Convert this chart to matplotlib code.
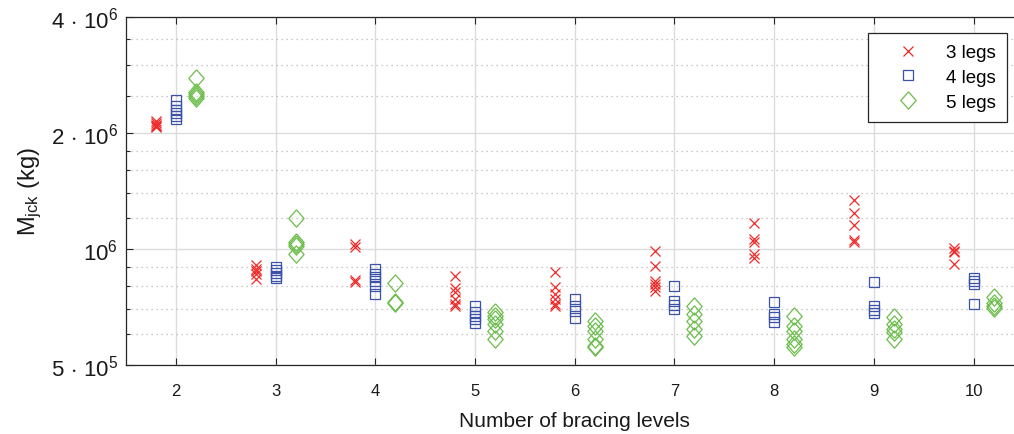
import numpy as np
import matplotlib
matplotlib.use('Agg')
import matplotlib.pyplot as plt
from matplotlib.ticker import FixedLocator, NullFormatter

plt.rcParams['font.family'] = ['Liberation Sans', 'DejaVu Sans']
plt.rcParams['mathtext.fontset'] = 'custom'
plt.rcParams['mathtext.rm'] = 'Liberation Sans'
plt.rcParams['mathtext.it'] = 'Liberation Sans:italic'

levels = [2, 3, 4, 5, 6, 7, 8, 9, 10]

# jacket mass (kg) per bracing level
legs3 = [
    [2.15e6, 2.12e6, 2.10e6, 2.08e6, 2.07e6],
    [9.1e5, 8.9e5, 8.75e5, 8.6e5, 8.35e5],
    [1.03e6, 1.015e6, 8.3e5, 8.2e5],
    [8.5e5, 7.9e5, 7.75e5, 7.42e5, 7.2e5, 7.1e5],
    [8.7e5, 7.96e5, 7.65e5, 7.42e5, 7.2e5, 7.1e5],
    [9.87e5, 9.05e5, 8.28e5, 8.12e5, 7.96e5, 7.8e5],
    [1.17e6, 1.06e6, 1.04e6, 9.7e5, 9.5e5],
    [1.34e6, 1.24e6, 1.155e6, 1.055e6, 1.045e6],
    [1.005e6, 9.9e5, 9.8e5, 9.15e5],
]
legs4 = [
    [2.43e6, 2.35e6, 2.30e6, 2.26e6, 2.22e6, 2.18e6],
    [8.98e5, 8.8e5, 8.65e5, 8.5e5, 8.4e5],
    [8.88e5, 8.62e5, 8.45e5, 8.28e5, 8.03e5, 7.65e5],
    [7.1e5, 6.85e5, 6.69e5, 6.58e5, 6.43e5],
    [7.42e5, 7.1e5, 6.92e5, 6.61e5],
    [8.03e5, 7.34e5, 7.16e5, 6.99e5],
    [7.3e5, 6.78e5, 6.65e5, 6.48e5],
    [8.23e5, 7.13e5, 6.96e5, 6.82e5],
    [8.4e5, 8.28e5, 8.12e5, 7.2e5],
]
legs5 = [
    [2.77e6, 2.55e6, 2.52e6, 2.49e6, 2.46e6],
    [1.2e6, 1.04e6, 1.03e6, 1.02e6, 9.7e5],
    [8.17e5, 7.3e5, 7.25e5],
    [6.85e5, 6.69e5, 6.58e5, 6.39e5, 6.14e5, 5.84e5],
    [6.52e5, 6.33e5, 6.14e5, 5.84e5, 5.61e5, 5.56e5],
    [7.13e5, 6.78e5, 6.52e5, 6.2e5, 5.96e5],
    [6.71e5, 6.33e5, 6.14e5, 5.84e5, 5.67e5, 5.56e5],
    [6.65e5, 6.39e5, 6.2e5, 6.08e5, 5.84e5],
    [7.5e5, 7.24e5, 7.13e5, 7.02e5],
]

series_labels = ['3 legs', '4 legs', '5 legs']
ytick_vals = [5e5, 1e6, 2e6, 4e6]
ytick_labels = [r'$5\,\cdot\,10^{5}$', r'$10^{6}$', r'$2\,\cdot\,10^{6}$', r'$4\,\cdot\,10^{6}$']
yminor_vals = [6e5, 7e5, 8e5, 9e5, 1.2e6, 1.4e6, 1.6e6, 1.8e6, 2.5e6, 3e6, 3.5e6]

# slightly taller than wide diamond, like matlab's
diamond = [(0, 1), (0.88, 0), (0, -1), (-0.88, 0), (0, 1)]

styles = [
    dict(marker='x', color='#ee2a2a', ms=6.8, mew=0.9, offset=-0.2),
    dict(marker='s', color='#3a52a8', ms=7.6, mew=0.9, offset=0.0),
    dict(marker=diamond, color='#6cbd4c', ms=12.5, mew=0.9, offset=0.2),
]

fig = plt.figure(figsize=(10.14, 4.35), dpi=100)
ax = fig.add_axes([126 / 1014, 69 / 435, 897.5 / 1014, 348 / 435])

for data, st, lab in zip([legs3, legs4, legs5], styles, series_labels):
    xs, ys = [], []
    for lev, vals in zip(levels, data):
        xs += [lev + st['offset']] * len(vals)
        ys += vals
    ax.plot(xs, ys, linestyle='none', marker=st['marker'], ms=st['ms'],
            mew=st['mew'], mec=st['color'], mfc='none', label=lab, zorder=3)

ax.set_yscale('log')
ax.set_xlim(1.5, 10.5)
ax.set_ylim(5e5, 4e6)
ax.set_xticks(levels)
ax.set_xticklabels([str(l) for l in levels])
ax.yaxis.set_major_locator(FixedLocator(ytick_vals))
ax.set_yticklabels(ytick_labels)
ax.yaxis.set_minor_locator(FixedLocator(yminor_vals))
ax.yaxis.set_minor_formatter(NullFormatter())

ax.grid(True, which='major', color='#dcdcdc', linewidth=1.0, linestyle='-', zorder=0)
ax.grid(True, which='minor', axis='y', color='#b8b8b8', linewidth=0.9,
        linestyle=(0, (1, 3)), zorder=0)
ax.set_axisbelow(True)

for sp in ax.spines.values():
    sp.set_color('#262626')
    sp.set_linewidth(0.9)

ax.tick_params(axis='both', which='both', direction='in', top=True, right=True,
               color='#262626', width=0.8)
ax.tick_params(axis='both', which='major', length=5)
ax.tick_params(axis='y', which='minor', length=3)
ax.tick_params(axis='x', which='major', labelsize=12, pad=13, labelcolor='#1a1a1a')
ax.tick_params(axis='y', which='major', labelsize=16, pad=6, labelcolor='#1a1a1a')

ax.set_xlabel('Number of bracing levels', fontsize=15, color='#1a1a1a', labelpad=9)
ax.set_ylabel(r'M$_{\mathrm{jck}}$ (kg)', fontsize=17, color='#1a1a1a', labelpad=5)

leg = ax.legend(loc='upper right', bbox_to_anchor=(1006.7 / 1014, 1 - 34 / 435),
                bbox_transform=fig.transFigure, fontsize=13.5, numpoints=1,
                handlelength=3.1, handletextpad=0.45, borderpad=0.6,
                labelspacing=0.4, fancybox=False, framealpha=1, borderaxespad=0)
leg.get_frame().set_edgecolor('#262626')
leg.get_frame().set_linewidth(0.9)

fig.savefig('out.png', dpi=100)
